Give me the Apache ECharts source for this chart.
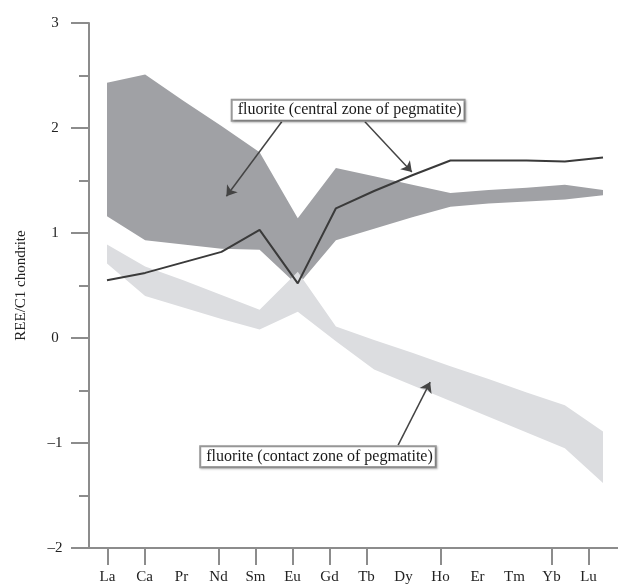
<!DOCTYPE html>
<html>
<head>
<meta charset="utf-8">
<script src="https://cdn.jsdelivr.net/npm/echarts@6/dist/echarts.min.js"></script>
<style>html,body{margin:0;padding:0;background:#fff}#c{width:618px;height:587px}</style>
</head>
<body>
<div id="c"></div>
<script>
const categories = ['La','Ca','Pr','Nd','Sm','Eu','Gd','Tb','Dy','Ho','Er','Tm','Yb','Lu'];
const tickedCategories = ['La','Ca','Nd','Sm','Eu','Gd','Tb','Ho','Yb','Lu'];
const yTicks = [-2, -1, 0, 1, 2, 3];
const centralUpper = [2.43, 2.51, 2.26, 2.02, 1.77, 1.14, 1.62, 1.54, 1.46, 1.38, 1.41, 1.43, 1.46, 1.41];
const centralLower = [1.16, 0.93, 0.89, 0.85, 0.84, 0.50, 0.93, 1.04, 1.15, 1.25, 1.28, 1.30, 1.32, 1.36];
const contactUpper = [0.89, 0.68, 0.55, 0.41, 0.27, 0.63, 0.11, -0.02, -0.14, -0.27, -0.39, -0.52, -0.64, -0.89];
const contactLower = [0.71, 0.40, 0.29, 0.18, 0.08, 0.25, -0.03, -0.30, -0.45, -0.60, -0.75, -0.90, -1.05, -1.38];
const pegmatiteLine = [0.55, 0.62, 0.72, 0.82, 1.03, 0.52, 1.235, 1.40, 1.55, 1.69, 1.69, 1.69, 1.68, 1.72];
const labelCentral = 'fluorite (central zone of pegmatite)';
const labelContact = 'fluorite (contact zone of pegmatite)';
// annotation anchors in data space [category index, value]
const centralBox = [6.32, 2.17];
const contactBox = [5.53, -1.13];
const centralArrows = [[[4.58, 2.06], [3.13, 1.35]], [[6.76, 2.06], [7.99, 1.58]]];
const contactArrows = [[[7.63, -1.02], [8.47, -0.42]]];

const FONT = '"Liberation Serif", "Times New Roman", serif';
const AX = '#8c8c8c';
const diffs = (up, lo) => up.map((v, i) => +(v - lo[i]).toFixed(3));

const chart = echarts.init(document.getElementById('c'), null, {renderer: 'canvas'});
const boxLabel = (text) => ({
  show: true, position: 'inside', formatter: text,
  fontFamily: FONT, fontSize: 16, color: '#1a1a1a',
  backgroundColor: '#fff', borderColor: '#999', borderWidth: 2,
  padding: [2, 2, 1, 5],
  shadowColor: 'rgba(0,0,0,0.25)', shadowBlur: 2, shadowOffsetX: 1, shadowOffsetY: 1
});
const arrowLines = arrs => arrs.map(a => [{coord: a[0]}, {coord: a[1]}]);
const band = (stack, lo, up, color, z) => [
  {type: 'line', xAxisIndex: 1, yAxisIndex: 1, stack: stack, stackStrategy: 'all',
    data: lo, symbol: 'none', lineStyle: {opacity: 0}, z: z, silent: true},
  {type: 'line', xAxisIndex: 1, yAxisIndex: 1, stack: stack, stackStrategy: 'all',
    data: diffs(up, lo), symbol: 'none', lineStyle: {opacity: 0},
    areaStyle: {color: color, opacity: 1}, z: z, silent: true}
];

chart.setOption({
  animation: false,
  grid: [
    {left: 89, top: 23, bottom: 39, width: 555, outerBoundsMode: 'none', containLabel: false},
    {left: 107, top: 23, bottom: 39, right: 15, outerBoundsMode: 'none', containLabel: false},
    {left: 107, top: 23, bottom: 39, right: 15, outerBoundsMode: 'none', containLabel: false}
  ],
  xAxis: [
    {
      gridIndex: 0, type: 'category', data: categories.concat(['']), boundaryGap: true,
      axisLine: {show: true, onZero: false, lineStyle: {color: AX, width: 2}},
      axisTick: {show: true, alignWithLabel: true, length: 17, lineStyle: {color: AX, width: 2},
        interval: (i, v) => tickedCategories.indexOf(v) >= 0},
      axisLabel: {interval: 0, margin: 22, fontFamily: FONT, fontSize: 15, color: '#222'},
      splitLine: {show: false}
    },
    {gridIndex: 1, type: 'category', data: categories, boundaryGap: false, show: false},
    {gridIndex: 2, type: 'value', min: 0, max: categories.length - 1, show: false}
  ],
  yAxis: [
    {
      gridIndex: 0, type: 'value', min: yTicks[0], max: yTicks[yTicks.length - 1], interval: 1,
      name: 'REE/C1 chondrite', nameLocation: 'middle', nameGap: 60, nameRotate: 90,
      nameTextStyle: {fontFamily: FONT, fontSize: 15, color: '#222'},
      axisLine: {show: true, onZero: false, lineStyle: {color: AX, width: 2}},
      axisTick: {show: true, length: 18, lineStyle: {color: AX, width: 2}},
      minorTick: {show: true, splitNumber: 2, length: 10, lineStyle: {color: AX, width: 2}},
      axisLabel: {margin: 34, align: 'center', fontFamily: FONT, fontSize: 15, color: '#222',
        formatter: v => String(v).replace('-', '\u2013')},
      splitLine: {show: false}
    },
    {gridIndex: 1, type: 'value', min: yTicks[0], max: yTicks[yTicks.length - 1], show: false},
    {gridIndex: 2, type: 'value', min: yTicks[0], max: yTicks[yTicks.length - 1], show: false}
  ],
  series: [].concat(
    band('central', centralLower, centralUpper, '#a0a1a5', 1),
    band('contact', contactLower, contactUpper, '#dcdde0', 2),
    [
      {type: 'line', xAxisIndex: 1, yAxisIndex: 1, data: pegmatiteLine, symbol: 'none',
        lineStyle: {color: '#3a3a3a', width: 2}, z: 3, silent: true},
      {type: 'line', xAxisIndex: 2, yAxisIndex: 2, data: [], symbol: 'none', z: 4, silent: true,
        markLine: {
          silent: true, symbol: ['none', 'arrow'], symbolSize: 10, animation: false,
          lineStyle: {color: '#444', width: 1.5, type: 'solid'}, label: {show: false},
          data: arrowLines(centralArrows).concat(arrowLines(contactArrows))
        },
        markPoint: {
          silent: true, animation: false, symbol: 'rect', symbolSize: 1,
          itemStyle: {color: 'rgba(0,0,0,0)'},
          data: [
            {coord: centralBox, label: boxLabel(labelCentral)},
            {coord: contactBox, label: boxLabel(labelContact)}
          ]
        }
      }
    ]
  )
});
</script>
</body>
</html>
